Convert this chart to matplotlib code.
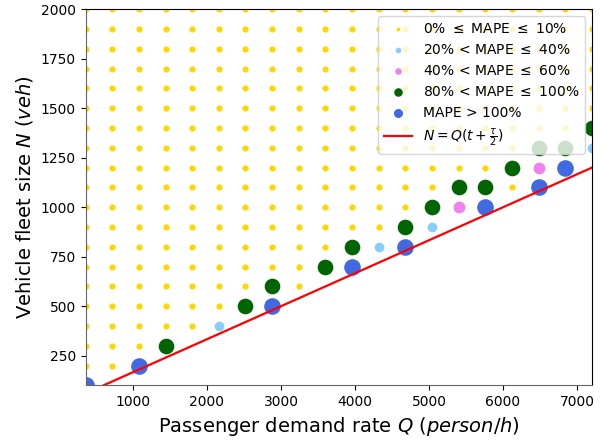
import matplotlib
matplotlib.use("Agg")
import matplotlib.pyplot as plt

# demand rate columns (person/h) and fleet size rows (veh)
q_demand = [360, 720, 1080, 1440, 1800, 2160, 2520, 2880, 3240, 3600,
            3960, 4320, 4680, 5040, 5400, 5760, 6120, 6480, 6840, 7200]
fleet_sizes = [100, 200, 300, 400, 500, 600, 700, 800, 900, 1000,
               1100, 1200, 1300, 1400, 1500, 1600, 1700, 1800, 1900, 2000]
# lowest simulated fleet size for each demand column
min_fleet = [100, 200, 200, 300, 400, 400, 500, 500, 600, 700,
             700, 800, 800, 900, 1000, 1000, 1100, 1100, 1200, 1300]

# points outside the 0-10% band
q_20_40 = [2160, 4320, 5040, 7200]
n_20_40 = [400, 800, 900, 1300]
q_40_60 = [5400, 6480]
n_40_60 = [1000, 1200]
q_80_100 = [1440, 2520, 2880, 3600, 3960, 4680, 5040, 5400, 5760, 6120, 6480, 6840, 7200]
n_80_100 = [300, 500, 600, 700, 800, 900, 1000, 1100, 1100, 1200, 1300, 1300, 1400]
q_over_100 = [360, 1080, 2880, 3960, 4680, 5760, 6480, 6840]
n_over_100 = [100, 200, 500, 700, 800, 1000, 1100, 1200]

t_plus_half_tau = 1 / 6  # h

special = set(zip(q_20_40, n_20_40)) | set(zip(q_40_60, n_40_60)) \
    | set(zip(q_80_100, n_80_100)) | set(zip(q_over_100, n_over_100))
q_ok, n_ok = [], []
for q, n_min in zip(q_demand, min_fleet):
    for n in fleet_sizes:
        if n >= n_min and (q, n) not in special:
            q_ok.append(q)
            n_ok.append(n)

fig, ax = plt.subplots(figsize=(6.07, 4.43), dpi=100)
fig.subplots_adjust(left=0.141, right=0.975, bottom=0.13, top=0.979)

ax.scatter(q_ok, n_ok, s=12, color="gold", label=r"0% $\leq$ MAPE $\leq$ 10%")
ax.scatter(q_20_40, n_20_40, s=36, color="lightskyblue", label=r"20% < MAPE $\leq$ 40%")
ax.scatter(q_40_60, n_40_60, s=56, color="violet", label=r"40% < MAPE $\leq$ 60%")
ax.scatter(q_80_100, n_80_100, s=105, color="darkgreen", label=r"80% < MAPE $\leq$ 100%")
ax.scatter(q_over_100, n_over_100, s=120, color="royalblue", label="MAPE > 100%")

line_q = [q_demand[0], q_demand[-1]]
ax.plot(line_q, [q * t_plus_half_tau for q in line_q], color="red", lw=1.6,
        label=r"$N = Q(t + \frac{\tau}{2})$")

ax.set_xlim(360, 7200)
ax.set_ylim(100, 2000)
ax.set_yticks(range(250, 2001, 250))
ax.set_xlabel(r"Passenger demand rate $Q$ $(person/h)$", fontsize=14)
ax.set_ylabel(r"Vehicle fleet size $N$ $(veh)$", fontsize=14)
ax.tick_params(labelsize=10)
ax.spines["left"].set_color("#666666")
ax.spines["bottom"].set_color("#666666")
ax.legend(loc="upper right", fontsize=10, markerscale=0.5)

fig.savefig("out.png", dpi=100)
